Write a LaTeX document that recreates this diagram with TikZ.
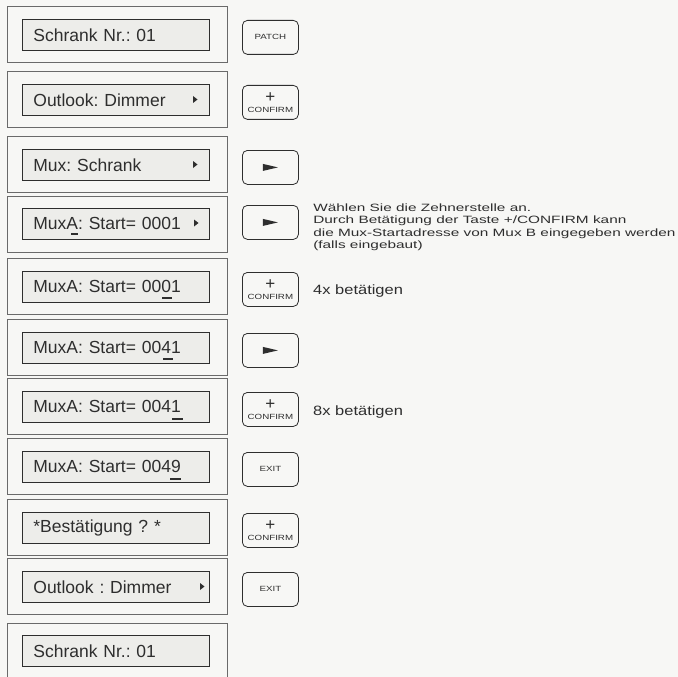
\documentclass[tikz,border=0pt]{standalone}
\usepackage{fontspec}
\setmainfont{Liberation Sans}
\usetikzlibrary{calc}
\frenchspacing
\definecolor{bg}{HTML}{F7F7F5}
\definecolor{lcd}{HTML}{EDEDEA}
\definecolor{ink}{HTML}{2E2E2E}
\definecolor{frame}{HTML}{6A6A6A}
\tikzset{
  outerbox/.style={draw=frame, line width=0.9pt, minimum width=220pt, minimum height=56pt, anchor=north west, inner sep=0pt},
  lcdbox/.style={draw=ink, line width=0.8pt, fill=lcd, text width=165pt, align=left, inner xsep=11pt, inner ysep=0pt, minimum height=31pt, anchor=north west, font=\fontsize{17.5}{19}\selectfont, text=ink},
  keybox/.style={draw=ink, line width=0.8pt, rounded corners=5pt, minimum width=56pt, minimum height=34pt, inner sep=0pt, anchor=north west, text=ink, align=center},
  note/.style={anchor=base west, inner sep=0pt, text=ink, xscale=1.45, align=left, font=\fontsize{10.6}{12.5}\selectfont},
  shortnote/.style={anchor=base west, inner sep=0pt, text=ink, xscale=1.22, font=\fontsize{13.5}{15}\selectfont},
  cursor/.style={ink, line width=2pt},
  tri/.style={fill=ink}
}
\newcommand{\smallkey}[1]{\fontsize{7.5}{8}\selectfont\scalebox{1.3}[1]{#1}}
\newcommand{\confirmkey}{{\fontsize{17}{11}\selectfont +}\\[-2pt]\smallkey{CONFIRM}}
\begin{document}
\begin{tikzpicture}[x=1pt,y=-1pt]
\useasboundingbox[fill=bg] (0,0) rectangle (678,677);
% row 1
\node[outerbox] (o1) at (7,6) {};
\node[lcdbox] (d1) at (22,19) {Schrank Nr.: 01};
\node[keybox] (k1) at (242,20) {\smallkey{PATCH}};
% row 2
\node[outerbox] (o2) at (7,71) {};
\node[lcdbox] (d2) at (22,84) {Outlook: Dimmer};
\fill[tri] (193,96) -- (197.5,99.5) -- (193,103) -- cycle;
\node[keybox] (k2) at (242,85) {\confirmkey};
% row 3
\node[outerbox] (o3) at (7,136) {};
\node[lcdbox] (d3) at (22,149) {Mux: Schrank};
\fill[tri] (193,161) -- (197.5,164.5) -- (193,168) -- cycle;
\node[keybox] (k3) at (242,150) {};
\fill[tri] ($(k3.center)+(-7.5,-3.5)$) -- ($(k3.center)+(7.5,0)$) -- ($(k3.center)+(-7.5,3.5)$) -- cycle;
% row 4
\node[outerbox] (o4) at (7,196) {};
\node[lcdbox] (d4) at (22,208) {MuxA: Start= 0001};
\fill[tri] (194,219.5) -- (198.5,223) -- (194,226.5) -- cycle;
\draw[cursor] (71,234) -- (78,234);
\node[keybox] (k4) at (242,205) {};
\fill[tri] ($(k4.center)+(-7.5,-3.5)$) -- ($(k4.center)+(7.5,0)$) -- ($(k4.center)+(-7.5,3.5)$) -- cycle;
\node[note] (n4) at (313,248.5) {Wählen Sie die Zehnerstelle an.\\Durch Betätigung der Taste +/CONFIRM kann\\die Mux-Startadresse von Mux B eingegeben werden\\(falls eingebaut)};
% row 5
\node[outerbox] (o5) at (7,258) {};
\node[lcdbox] (d5) at (22,271) {MuxA: Start= 0001};
\draw[cursor] (162,298) -- (172,298);
\node[keybox] (k5) at (242,272) {\confirmkey};
\node[shortnote] (n5) at (313,294) {4x betätigen};
% row 6
\node[outerbox] (o6) at (7,319) {};
\node[lcdbox] (d6) at (22,332) {MuxA: Start= 0041};
\draw[cursor] (163,359) -- (173,359);
\node[keybox] (k6) at (242,333) {};
\fill[tri] ($(k6.center)+(-7.5,-3.5)$) -- ($(k6.center)+(7.5,0)$) -- ($(k6.center)+(-7.5,3.5)$) -- cycle;
% row 7
\node[outerbox] (o7) at (7,378) {};
\node[lcdbox] (d7) at (22,391) {MuxA: Start= 0041};
\draw[cursor] (172,419) -- (183,419);
\node[keybox] (k7) at (242,392) {\confirmkey};
\node[shortnote] (n7) at (313,415) {8x betätigen};
% row 8
\node[outerbox] (o8) at (7,438) {};
\node[lcdbox] (d8) at (22,451) {MuxA: Start= 0049};
\draw[cursor] (170,479) -- (181,479);
\node[keybox] (k8) at (242,452) {\smallkey{EXIT}};
% row 9
\node[outerbox] (o9) at (7,499) {};
\node[lcdbox] (d9) at (22,512) {*Bestätigung ? *};
\node[keybox] (k9) at (242,513) {\confirmkey};
% row 10
\node[outerbox] (o10) at (7,558) {};
\node[lcdbox] (d10) at (22,571) {Outlook : Dimmer};
\fill[tri] (200,583) -- (204.5,586.5) -- (200,590) -- cycle;
\node[keybox] (k10) at (242,572) {\smallkey{EXIT}};
% row 11
\node[outerbox] (o11) at (7,623) {};
\node[lcdbox] (d11) at (22,635) {Schrank Nr.: 01};
\end{tikzpicture}
\end{document}
